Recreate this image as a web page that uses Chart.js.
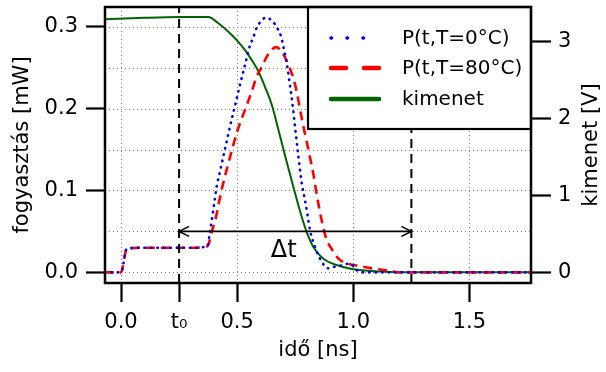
<!DOCTYPE html>
<html><head><meta charset="utf-8">
<script src="https://cdn.jsdelivr.net/npm/chart.js@4"></script>
<style>html,body{margin:0;padding:0;background:#fff}</style>
</head><body>
<canvas id="c" width="606" height="372"></canvas>
<script>
// ---- data ----
const tBlue = [-0.07, 0, 0.025, 0.1, 0.2, 0.3, 0.372, 0.383, 0.393, 0.402, 0.412, 0.426, 0.44, 0.455, 0.469, 0.486, 0.502, 0.52, 0.537, 0.555, 0.57, 0.58, 0.598, 0.624, 0.651, 0.673, 0.689, 0.703, 0.717, 0.727, 0.737, 0.749, 0.763, 0.778, 0.792, 0.803, 0.813, 0.835, 0.864, 0.892, 0.921, 0.957, 0.986, 1.01, 1.03, 1.5, 1.77];
const pBlue = [0, 0, 0.029, 0.03, 0.03, 0.03, 0.032, 0.05, 0.068, 0.086, 0.105, 0.123, 0.141, 0.16, 0.178, 0.198, 0.217, 0.238, 0.257, 0.277, 0.287, 0.296, 0.305, 0.311, 0.307, 0.298, 0.288, 0.27, 0.249, 0.229, 0.208, 0.178, 0.143, 0.109, 0.088, 0.07, 0.052, 0.031, 0.013, 0.005, 0.007, 0.009, 0.011, 0.004, 0, 0, 0];

const tRed = [-0.07, 0, 0.025, 0.1, 0.2, 0.3, 0.372, 0.393, 0.408, 0.422, 0.44, 0.462, 0.483, 0.5, 0.52, 0.541, 0.563, 0.584, 0.606, 0.627, 0.649, 0.67, 0.694, 0.709, 0.727, 0.742, 0.756, 0.77, 0.783, 0.799, 0.813, 0.828, 0.838, 0.852, 0.868, 0.885, 0.906, 0.935, 0.971, 1.0, 1.04, 1.1, 1.157, 1.2, 1.5, 1.77];
const pRed = [0, 0, 0.029, 0.03, 0.03, 0.03, 0.032, 0.052, 0.066, 0.086, 0.109, 0.133, 0.155, 0.172, 0.188, 0.204, 0.221, 0.239, 0.251, 0.263, 0.272, 0.275, 0.268, 0.261, 0.249, 0.237, 0.221, 0.2, 0.181, 0.16, 0.141, 0.12, 0.103, 0.08, 0.058, 0.04, 0.029, 0.017, 0.011, 0.009, 0.007, 0.004, 0.002, 0, 0, 0];

const tOut = [-0.07, 0.1, 0.25, 0.376, 0.419, 0.462, 0.498, 0.534, 0.563, 0.592, 0.62, 0.649, 0.677, 0.706, 0.742, 0.778, 0.806, 0.828, 0.87, 0.928, 1.0, 1.115, 1.2, 1.77];
const vOut = [3.29, 3.31, 3.32, 3.32, 3.24, 3.13, 3.02, 2.89, 2.76, 2.61, 2.41, 2.18, 1.86, 1.52, 1.11, 0.72, 0.47, 0.33, 0.18, 0.095, 0.04, 0.01, 0, 0];

const xTickValues = [0, 0.25, 0.5, 1.0, 1.5];
const xTickLabels = ['0.0', 't\u2080', '0.5', '1.0', '1.5'];
const xGridValues = [0, 0.5, 1.0, 1.5];
const yTickValues = [0, 0.1, 0.2, 0.3];
const yTickLabels = ['0.0', '0.1', '0.2', '0.3'];
const yGridValues = [0, 0.05, 0.1, 0.15, 0.2, 0.25, 0.3];
const y1TickValues = [0, 1, 2, 3];
const y1TickLabels = ['0', '1', '2', '3'];
const seriesLabels = ['P(t,T=0\u00B0C)', 'P(t,T=80\u00B0C)', 'kimenet'];
const t0 = 0.25, tEnd = 1.25, arrowLevel = 0.05;

// ---- chart ----
const FONT = "'DejaVu Sans', sans-serif";
Chart.defaults.font.family = FONT;
Chart.defaults.color = '#000';
const toXY = (xs, ys) => xs.map((x, i) => ({x: x, y: ys[i]}));

const framePlugin = {
  id: 'frame',
  beforeDatasetsDraw(chart) {
    const {ctx, chartArea: a, scales: {x, y}} = chart;
    ctx.save();
    ctx.beginPath(); ctx.rect(a.left, a.top, a.width, a.height); ctx.clip();
    ctx.strokeStyle = '#808080'; ctx.lineWidth = 1; ctx.setLineDash([1, 3]);
    xGridValues.forEach(v => {
      const px = Math.round(x.getPixelForValue(v)) + 0.5;
      ctx.beginPath(); ctx.moveTo(px, a.top); ctx.lineTo(px, a.bottom); ctx.stroke();
    });
    yGridValues.forEach(v => {
      const py = Math.round(y.getPixelForValue(v)) + 0.5;
      ctx.beginPath(); ctx.moveTo(a.left, py); ctx.lineTo(a.right, py); ctx.stroke();
    });
    ctx.restore();
  },
  afterDatasetsDraw(chart) {
    const {ctx, chartArea: a, scales: {x, y}} = chart;
    const legW = 223, legH = 122;
    const legL = a.right - legW, legT = a.top;
    ctx.save();
    // dashed verticals
    ctx.strokeStyle = '#000'; ctx.lineWidth = 2; ctx.setLineDash([9, 6]);
    let px = x.getPixelForValue(t0);
    ctx.beginPath(); ctx.moveTo(px, a.bottom); ctx.lineTo(px, a.top); ctx.stroke();
    px = x.getPixelForValue(tEnd);
    ctx.beginPath(); ctx.moveTo(px, a.bottom); ctx.lineTo(px, legT + legH); ctx.stroke();
    // arrow
    ctx.setLineDash([]); ctx.lineWidth = 1.6;
    const xa = x.getPixelForValue(t0), xb = x.getPixelForValue(tEnd), ya = y.getPixelForValue(arrowLevel);
    ctx.beginPath(); ctx.moveTo(xa, ya); ctx.lineTo(xb, ya); ctx.stroke();
    ctx.beginPath(); ctx.moveTo(xa + 10, ya - 5); ctx.lineTo(xa, ya); ctx.lineTo(xa + 10, ya + 5); ctx.stroke();
    ctx.beginPath(); ctx.moveTo(xb - 10, ya - 5); ctx.lineTo(xb, ya); ctx.lineTo(xb - 10, ya + 5); ctx.stroke();
    // delta t
    ctx.fillStyle = '#000'; ctx.font = "24px " + FONT; ctx.textAlign = 'center'; ctx.textBaseline = 'middle';
    ctx.fillText('\u0394t', x.getPixelForValue(0.70), ya + 19);
    // legend
    ctx.fillStyle = '#fff'; ctx.fillRect(legL, legT, legW, legH);
    ctx.strokeStyle = '#000'; ctx.lineWidth = 2.2; ctx.strokeRect(legL, legT, legW, legH);
    const rows = [31, 61, 92];
    const dashes = [[0.5, 15.5], [15, 18], []];
    const widths = [3.5, 4.5, 4.5];
    chart.data.datasets.forEach((ds, i) => {
      const ry = legT + rows[i];
      ctx.strokeStyle = ds.borderColor; ctx.lineWidth = widths[i]; ctx.setLineDash(dashes[i]);
      ctx.lineCap = 'round';
      ctx.beginPath(); ctx.moveTo(legL + 23, ry); ctx.lineTo(legL + 71, ry); ctx.stroke();
      ctx.setLineDash([]); ctx.lineCap = 'butt';
      ctx.fillStyle = '#000'; ctx.font = "20px " + FONT; ctx.textAlign = 'left'; ctx.textBaseline = 'middle';
      ctx.fillText(ds.label, legL + 94, ry + 1);
    });
    // frame
    ctx.strokeStyle = '#000'; ctx.lineWidth = 2.5;
    ctx.strokeRect(a.left, a.top, a.width, a.height);
    // right axis title (reads bottom to top)
    ctx.translate(chart.width - 14, (a.top + a.bottom) / 2);
    ctx.rotate(-Math.PI / 2);
    ctx.font = "21px " + FONT; ctx.textAlign = 'center'; ctx.textBaseline = 'middle'; ctx.fillStyle = '#000';
    ctx.fillText('kimenet [V]', 0, 0);
    ctx.restore();
  }
};

const tickGrid = (len) => ({drawOnChartArea: false, drawTicks: true, tickLength: len, tickWidth: 2.2, tickColor: '#000'});
const noPad = s => { s.paddingTop = 0; s.paddingBottom = 0; s.paddingLeft = 0; s.paddingRight = 0; };

new Chart(document.getElementById('c').getContext('2d'), {
  type: 'line',
  data: {datasets: [
    {label: seriesLabels[0], data: toXY(tBlue, pBlue), yAxisID: 'y', borderColor: '#0000ff', borderWidth: 2.6,
     borderDash: [0.5, 6], borderCapStyle: 'round', pointRadius: 0, cubicInterpolationMode: 'monotone', fill: false},
    {label: seriesLabels[1], data: toXY(tRed, pRed), yAxisID: 'y', borderColor: '#ff0000', borderWidth: 2.6,
     borderDash: [9, 6], pointRadius: 0, cubicInterpolationMode: 'monotone', fill: false},
    {label: seriesLabels[2], data: toXY(tOut, vOut), yAxisID: 'y1', borderColor: '#006400', borderWidth: 2,
     pointRadius: 0, cubicInterpolationMode: 'monotone', fill: false}
  ]},
  options: {
    responsive: false, animation: false, devicePixelRatio: 1,
    layout: {padding: {top: 7, left: 0, right: 0, bottom: 0}},
    plugins: {legend: {display: false}, tooltip: {enabled: false}},
    scales: {
      x: {type: 'linear', min: -0.069, max: 1.765,
        afterBuildTicks: s => { s.ticks = xTickValues.map(v => ({value: v})); },
        ticks: {autoSkip: false, maxRotation: 0, font: {size: 21}, padding: 8,
          callback: v => xTickLabels[xTickValues.indexOf(v)]},
        grid: tickGrid(19), border: {display: false},
        title: {display: true, text: 'id\u0151 [ns]', font: {size: 21}, padding: {top: 0, bottom: 9}},
        afterFit: s => { s.height = 89; noPad(s); }},
      y: {type: 'linear', position: 'left', min: -0.013, max: 0.324,
        afterBuildTicks: s => { s.ticks = yTickValues.map(v => ({value: v})); },
        ticks: {autoSkip: false, font: {size: 21}, padding: 8,
          callback: v => yTickLabels[yTickValues.indexOf(v)]},
        grid: tickGrid(19), border: {display: false},
        title: {display: true, text: 'fogyaszt\u00E1s [mW]', font: {size: 21}, padding: {top: 10, bottom: 0}},
        afterFit: s => { s.width = 105; noPad(s); }},
      y1: {type: 'linear', position: 'right', min: -0.139, max: 3.451,
        afterBuildTicks: s => { s.ticks = y1TickValues.map(v => ({value: v})); },
        ticks: {autoSkip: false, font: {size: 21}, padding: 7,
          callback: v => y1TickLabels[y1TickValues.indexOf(v)]},
        grid: tickGrid(20), border: {display: false},
        title: {display: false},
        afterFit: s => { s.width = 75; noPad(s); }}
    }
  },
  plugins: [framePlugin]
});
</script>
</body></html>
